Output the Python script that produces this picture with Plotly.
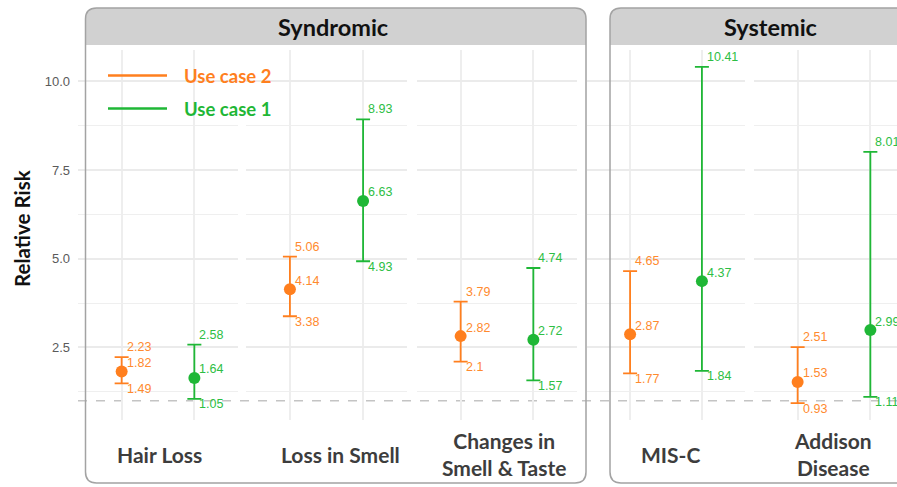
import plotly.graph_objects as go

# ---- data -------------------------------------------------------------
conditions = ["Hair Loss", "Loss in Smell", "Changes in<br>Smell & Taste", "MIS-C", "Addison<br>Disease"]
groups = ["Syndromic", "Systemic"]

uc2_rr = [1.82, 4.14, 2.82, 2.87, 1.53]
uc2_lo = [1.49, 3.38, 2.10, 1.77, 0.93]
uc2_hi = [2.23, 5.06, 3.79, 4.65, 2.51]

uc1_rr = [1.64, 6.63, 2.72, 4.37, 2.99]
uc1_lo = [1.05, 4.93, 1.57, 1.84, 1.11]
uc1_hi = [2.58, 8.93, 4.74, 10.41, 8.01]

y_ticks = [2.5, 5.0, 7.5, 10.0]
y_tick_text = ["2.5", "5.0", "7.5", "10.0"]
y_minor = [1.25, 3.75, 6.25, 8.75]
reference_rr = 1.0

# ---- layout constants (pixels) ---------------------------------------
W, H = 897, 487
ORANGE = "#FF7F1E"
GREEN = "#1FB736"
ORANGE_TXT = "#FF8A2E"
GREEN_TXT = "#2DBE44"
panels_px = [(78, 238), (246, 407), (417, 577), (587, 745), (754, 897)]
plot_top, plot_bot = 50, 420
y_range = [0.456, 10.884]
label_x_px = [159, 340, 504, 670, 833]


def fx(x):
    return x / W


def fy(y):
    return 1 - y / H


fig = go.Figure()

label_font = dict(family="Liberation Sans, Arial", size=12.5)

for i, cond in enumerate(conditions):
    ax = "" if i == 0 else str(i + 1)
    xref, yref = "x" + ax, "y" + ax
    # Use case 2 at position 1, Use case 1 at position 2
    for pos, rr, lo, hi, col, tcol in [
        (1, uc2_rr[i], uc2_lo[i], uc2_hi[i], ORANGE, ORANGE_TXT),
        (2, uc1_rr[i], uc1_lo[i], uc1_hi[i], GREEN, GREEN_TXT),
    ]:
        fig.add_trace(go.Scatter(
            x=[pos], y=[rr], mode="markers",
            marker=dict(color=col, size=12),
            error_y=dict(type="data", symmetric=False,
                         array=[hi - rr], arrayminus=[rr - lo],
                         color=col, thickness=1.8, width=7),
            xaxis=xref, yaxis=yref, showlegend=False, hoverinfo="skip",
        ))
        for val, shift in [(hi, 10), (rr, 8.5), (lo, -5.5)]:
            fig.add_annotation(
                x=pos, y=val, xref=xref, yref=yref,
                text=f"{val:g}", showarrow=False,
                xanchor="left", yanchor="middle", xshift=3, yshift=shift,
                font=dict(color=tcol, **label_font),
            )

    x0, x1 = panels_px[i]
    span = 2.2 * (x1 - x0) / 160 if i == 4 else 2.2
    fig.layout["xaxis" + ax] = dict(
        domain=[fx(x0), fx(x1)], range=[0.4, 0.4 + span],
        tickvals=[1, 2], showticklabels=False, ticks="",
        showgrid=True, gridcolor="#eeeeee", gridwidth=1.5,
        zeroline=False, showline=False, anchor=yref, fixedrange=True,
    )
    fig.layout["yaxis" + ax] = dict(
        domain=[fy(plot_bot), fy(plot_top)], range=y_range,
        tickvals=y_ticks, ticktext=y_tick_text,
        showticklabels=(i == 0), ticks="",
        ticklabelstandoff=7,
        tickfont=dict(family="Liberation Sans, Arial", size=13, color="#5a5a5a"),
        showgrid=True, gridcolor="#ebebeb", gridwidth=1.5,
        minor=dict(tickvals=y_minor, showgrid=True, gridcolor="#efefef", gridwidth=1.2),
        zeroline=False, showline=False, anchor=xref, fixedrange=True,
    )

    # category label under each sub-panel
    fig.add_annotation(
        x=fx(label_x_px[i]), y=fy(454), xref="paper", yref="paper",
        text=f"<b>{cond}</b>", showarrow=False,
        xanchor="center", yanchor="middle",
        font=dict(family="Lato", size=21, color="#3d3d3d"),
    )

# reference line at RR = 1
fig.add_shape(type="line", xref="paper", yref="y",
              x0=fx(78), x1=1, y0=reference_rr, y1=reference_rr,
              line=dict(color="#c4c4c4", width=1.5, dash="dash"), layer="below")


def rounded_box(x0, y0, x1, y1, r):
    pts = [
        f"M {fx(x0 + r)},{fy(y0)}",
        f"L {fx(x1 - r)},{fy(y0)}",
        f"Q {fx(x1)},{fy(y0)} {fx(x1)},{fy(y0 + r)}",
        f"L {fx(x1)},{fy(y1 - r)}",
        f"Q {fx(x1)},{fy(y1)} {fx(x1 - r)},{fy(y1)}",
        f"L {fx(x0 + r)},{fy(y1)}",
        f"Q {fx(x0)},{fy(y1)} {fx(x0)},{fy(y1 - r)}",
        f"L {fx(x0)},{fy(y0 + r)}",
        f"Q {fx(x0)},{fy(y0)} {fx(x0 + r)},{fy(y0)}",
        "Z",
    ]
    return " ".join(pts)


def strip_path(x0, y0, x1, y1, r):
    pts = [
        f"M {fx(x0)},{fy(y1)}",
        f"L {fx(x0)},{fy(y0 + r)}",
        f"Q {fx(x0)},{fy(y0)} {fx(x0 + r)},{fy(y0)}",
        f"L {fx(x1 - r)},{fy(y0)}",
        f"Q {fx(x1)},{fy(y0)} {fx(x1)},{fy(y0 + r)}",
        f"L {fx(x1)},{fy(y1)}",
        "Z",
    ]
    return " ".join(pts)


group_boxes = [(85.5, 586), (610, 930)]
group_text_x = [333, 770]
for g, (bx0, bx1), tx in zip(groups, group_boxes, group_text_x):
    fig.add_shape(type="path", xref="paper", yref="paper",
                  path=strip_path(bx0, 8, bx1, 45, 11),
                  fillcolor="#d1d1d1", line=dict(width=0))
    fig.add_shape(type="path", xref="paper", yref="paper",
                  path=rounded_box(bx0, 8, bx1, 483, 11),
                  fillcolor="rgba(0,0,0,0)", line=dict(color="#a3a3a3", width=1.5))
    fig.add_annotation(x=fx(tx), y=fy(27), xref="paper", yref="paper",
                       text=f"<b>{g}</b>", showarrow=False,
                       xanchor="center", yanchor="middle",
                       font=dict(family="Lato", size=23.5, color="#111111"))

# legend drawn inside the first panel
for name, col, yy in [("Use case 2", ORANGE, 75.5), ("Use case 1", GREEN, 108.5)]:
    fig.add_shape(type="line", xref="paper", yref="paper",
                  x0=fx(108), x1=fx(167), y0=fy(yy), y1=fy(yy),
                  line=dict(color=col, width=2.5))
    fig.add_annotation(x=fx(182), y=fy(yy), xref="paper", yref="paper",
                       text=f"<b>{name}</b>", showarrow=False,
                       xanchor="left", yanchor="middle",
                       font=dict(family="Lato", size=18.5, color=col))

# y-axis title
fig.add_annotation(x=fx(22), y=fy(229), xref="paper", yref="paper",
                   text="<b>Relative Risk</b>", showarrow=False, textangle=-90,
                   xanchor="center", yanchor="middle",
                   font=dict(family="Lato", size=20.5, color="#111111"))

fig.update_layout(
    width=W, height=H,
    margin=dict(l=0, r=0, t=0, b=0),
    paper_bgcolor="white", plot_bgcolor="white",
    showlegend=False,
)

fig.write_html("out.html")
